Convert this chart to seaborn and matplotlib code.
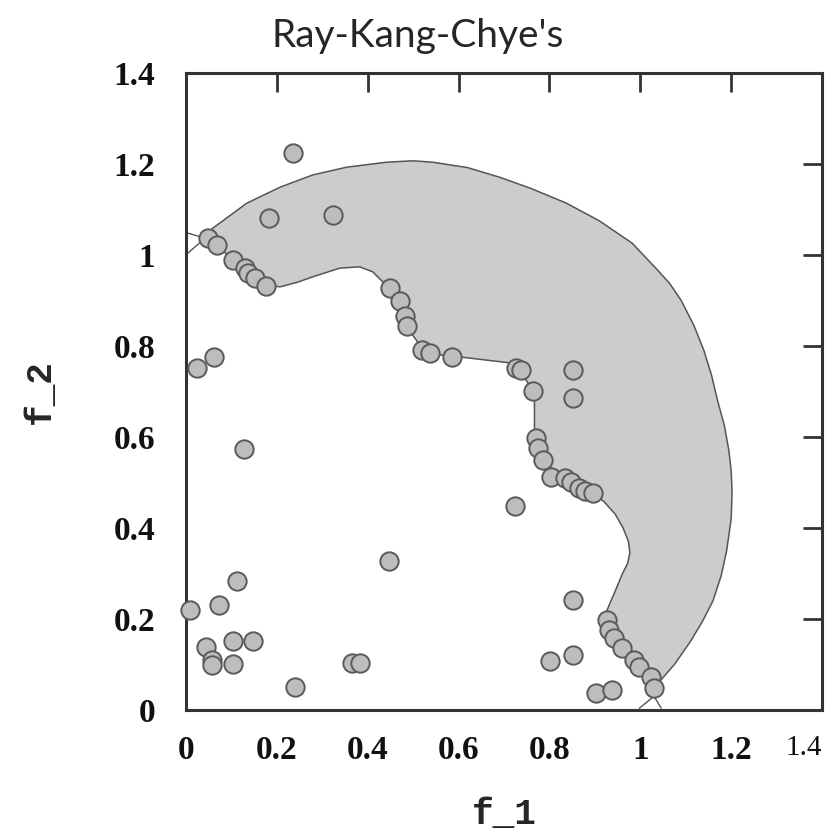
import matplotlib
matplotlib.use("Agg")
import matplotlib.pyplot as plt
import seaborn as sns
import pandas as pd

# solutions found by the algorithm
f1 = [0.235, 0.182, 0.323, 0.048, 0.068, 0.103, 0.130, 0.136, 0.152, 0.176,
      0.448, 0.470, 0.481, 0.486, 0.519, 0.536, 0.585, 0.727, 0.738, 0.763,
      0.851, 0.851, 0.771, 0.774, 0.785, 0.804, 0.835, 0.848, 0.866, 0.879,
      0.895, 0.725, 0.446, 0.927, 0.932, 0.943, 0.960, 0.987, 0.998, 1.024,
      1.031, 0.903, 0.938, 0.851, 0.851, 0.802, 0.024, 0.062, 0.127, 0.112,
      0.073, 0.009, 0.044, 0.057, 0.057, 0.103, 0.147, 0.103, 0.240, 0.365,
      0.382]
f2 = [1.224, 1.081, 1.088, 1.037, 1.022, 0.989, 0.971, 0.960, 0.949, 0.932,
      0.927, 0.899, 0.866, 0.844, 0.791, 0.785, 0.776, 0.752, 0.747, 0.701,
      0.747, 0.686, 0.598, 0.576, 0.549, 0.512, 0.510, 0.501, 0.488, 0.481,
      0.477, 0.448, 0.327, 0.198, 0.176, 0.158, 0.136, 0.110, 0.095, 0.073,
      0.048, 0.037, 0.044, 0.242, 0.121, 0.108, 0.752, 0.776, 0.574, 0.284,
      0.231, 0.220, 0.138, 0.110, 0.099, 0.152, 0.152, 0.101, 0.051, 0.103,
      0.103]

# shaded region: outer arc and inner (true front) boundary,
# first and last entries are the little end strokes down to the axes
outer_x = [0.004, 0.042, 0.059, 0.134, 0.207, 0.279, 0.354, 0.442, 0.500, 0.543,
           0.620, 0.690, 0.760, 0.837, 0.910, 0.982, 1.035, 1.065, 1.090, 1.118,
           1.140, 1.157, 1.170, 1.185, 1.195, 1.200, 1.202, 1.200, 1.190, 1.178,
           1.160, 1.137, 1.110, 1.075, 1.042, 1.030, 0.998]
outer_y = [1.004, 1.037, 1.059, 1.114, 1.149, 1.176, 1.193, 1.204, 1.207, 1.204,
           1.192, 1.171, 1.146, 1.114, 1.075, 1.026, 0.970, 0.937, 0.900, 0.845,
           0.790, 0.735, 0.680, 0.625, 0.570, 0.525, 0.480, 0.420, 0.350, 0.295,
           0.240, 0.195, 0.150, 0.100, 0.062, 0.030, 0.004]
inner_x = [0.004, 0.042, 0.068, 0.103, 0.134, 0.152, 0.178, 0.207, 0.245, 0.279,
           0.338, 0.382, 0.411, 0.433, 0.448, 0.470, 0.481, 0.486, 0.519, 0.536,
           0.585, 0.602, 0.712, 0.734, 0.763, 0.767, 0.767, 0.771, 0.774, 0.785,
           0.804, 0.833, 0.848, 0.866, 0.895, 0.920, 0.945, 0.962, 0.974, 0.977,
           0.972, 0.960, 0.945, 0.927, 0.925, 0.932, 0.943, 0.960, 0.982, 1.009,
           1.030, 1.046]
inner_y = [1.048, 1.037, 1.022, 0.989, 0.963, 0.949, 0.934, 0.930, 0.940, 0.952,
           0.971, 0.974, 0.963, 0.941, 0.927, 0.899, 0.866, 0.842, 0.796, 0.785,
           0.776, 0.776, 0.763, 0.747, 0.703, 0.675, 0.615, 0.600, 0.571, 0.549,
           0.512, 0.510, 0.499, 0.488, 0.477, 0.458, 0.430, 0.400, 0.370, 0.345,
           0.322, 0.298, 0.262, 0.220, 0.202, 0.180, 0.149, 0.136, 0.110, 0.084,
           0.030, 0.004]

ticks = [0, 0.2, 0.4, 0.6, 0.8, 1.0, 1.2, 1.4]
tick_labels = ["0", "0.2", "0.4", "0.6", "0.8", "1", "1.2", "1.4"]

sns.set_style("white")

fig = plt.figure(figsize=(8.36, 8.40), dpi=100)
ax = fig.add_axes([0.2225, 0.1548, 0.7608, 0.7583])

# filled body between the two crossings, end strokes drawn as plain lines
poly_x = outer_x[1:-1] + inner_x[1:-1][::-1]
poly_y = outer_y[1:-1] + inner_y[1:-1][::-1]
ax.fill(poly_x, poly_y, facecolor="#cccccc", edgecolor="#555555", lw=1.1, zorder=1)
for xs, ys in [(outer_x[:2], outer_y[:2]), (inner_x[:2], inner_y[:2]),
               (outer_x[-2:], outer_y[-2:]), (inner_x[-2:], inner_y[-2:])]:
    ax.plot(xs, ys, color="#555555", lw=1.0, zorder=1)

df = pd.DataFrame({"f_1": f1, "f_2": f2})
sns.scatterplot(data=df, x="f_1", y="f_2", ax=ax, s=175, color="#bdbdbd",
                edgecolor="#5a5a5a", linewidth=1.4, zorder=3, clip_on=False)

ax.set_xlim(0, 1.4)
ax.set_ylim(0, 1.4)
ax.set_xticks(ticks)
ax.set_yticks(ticks)
ax.set_xticklabels(tick_labels)
ax.set_yticklabels(tick_labels)

for s in ax.spines.values():
    s.set_color("#333333")
    s.set_linewidth(2.2)
ax.tick_params(direction="in", length=14, width=2, color="#333333",
               top=True, right=True)
ax.tick_params(axis="x", pad=18)
ax.tick_params(axis="y", pad=22)
for lab in ax.get_xticklabels() + ax.get_yticklabels():
    lab.set_fontfamily("Liberation Serif")
    lab.set_fontweight("bold")
    lab.set_fontsize(24)
    lab.set_color("#111111")
last = ax.get_xticklabels()[-1]
last.set_fontweight("normal")
last.set_fontsize(21)
last.set_horizontalalignment("right")

ax.set_xlabel("f_1", family="Liberation Mono", fontweight="bold", fontsize=26,
              labelpad=22)
ax.set_ylabel("f_2", family="Liberation Mono", fontweight="bold", fontsize=26,
              labelpad=40)

fig.suptitle("Ray-Kang-Chye's", family="Lato", fontsize=28, x=0.5, y=0.978)

fig.savefig("out.png", dpi=100)
